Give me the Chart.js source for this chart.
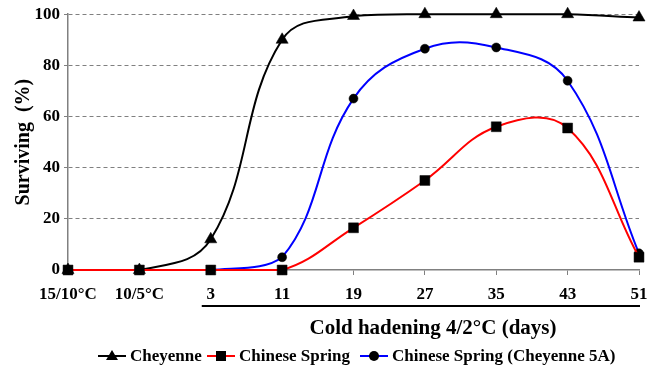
<!DOCTYPE html>
<html>
<head>
<meta charset="utf-8">
<script src="https://cdn.jsdelivr.net/npm/chart.js@4/dist/chart.umd.min.js"></script>
<style>
  html, body { margin: 0; padding: 0; background: #fff; }
  #wrap { width: 649px; height: 378px; }
</style>
</head>
<body>
<div id="wrap"><canvas id="lineChart"></canvas></div>
<script>
// data ------------------------------------------------------------
const categories = ['15/10°C', '10/5°C', '3', '11', '19', '27', '35', '43', '51'];
const cheyenne = [0, 0, 12, 90, 99.3, 100, 100, 100, 98.7];
const chineseSpring = [0, 0, 0, 0, 16.5, 35, 56, 55.5, 5];
const chineseSpring5A = [0, 0, 0, 5, 67, 86.5, 87, 74, 6.5];
const yTicks = [0, 20, 40, 60, 80, 100];

const serif = '"Liberation Serif", "DejaVu Serif", serif';

const seriesStyle = [
  { label: 'Cheyenne', color: '#000000', point: 'triangle', radius: 7, order: 2 },
  { label: 'Chinese Spring', color: '#ff0000', point: 'rect', radius: 7, order: 0 },
  { label: 'Chinese Spring (Cheyenne 5A)', color: '#0000ff', point: 'circle', radius: 4.5, order: 1 }
];

// draw marker shape (for the legend)
function marker(ctx, type, x, y) {
  ctx.fillStyle = '#000';
  ctx.beginPath();
  if (type == 'triangle') {
    ctx.moveTo(x, y - 6);
    ctx.lineTo(x + 6, y + 4);
    ctx.lineTo(x - 6, y + 4);
    ctx.closePath();
  } else if (type == 'rect') {
    ctx.rect(x - 5, y - 5, 10, 10);
  } else {
    ctx.arc(x, y, 5, 0, Math.PI * 2);
  }
  ctx.fill();
}

// extra bits: underline, x title, legend ---------------------------
const extras = {
  id: 'extras',
  afterDraw(chart) {
    const ctx = chart.ctx;
    const x = chart.scales.x;
    ctx.save();
    // thick line under the cold hardening days
    ctx.strokeStyle = '#000';
    ctx.lineWidth = 2;
    ctx.beginPath();
    ctx.moveTo(x.getPixelForValue(2) - 9, 306);
    ctx.lineTo(x.getPixelForValue(8) + 1, 306);
    ctx.stroke();

    ctx.fillStyle = '#000';
    ctx.font = 'bold 21px ' + serif;
    ctx.textAlign = 'center';
    ctx.textBaseline = 'middle';
    ctx.fillText('Cold hadening 4/2°C (days)', 433, 329);

    // legend
    ctx.font = 'bold 17px ' + serif;
    ctx.textAlign = 'left';
    const items = [[98, 130], [207, 239], [360, 392]];
    seriesStyle.forEach((s, i) => {
      const [lx, tx] = items[i];
      ctx.strokeStyle = s.color;
      ctx.lineWidth = 2;
      ctx.beginPath();
      ctx.moveTo(lx, 356);
      ctx.lineTo(lx + 28, 356);
      ctx.stroke();
      marker(ctx, s.point, lx + 14, 356);
      ctx.fillStyle = '#000';
      ctx.fillText(s.label, tx, 357);
    });
    ctx.restore();
  }
};

const data = {
  labels: categories,
  datasets: [cheyenne, chineseSpring, chineseSpring5A].map((vals, i) => ({
    label: seriesStyle[i].label,
    data: vals,
    order: seriesStyle[i].order,
    clip: false,
    borderColor: seriesStyle[i].color,
    borderWidth: 2,
    pointStyle: seriesStyle[i].point,
    pointRadius: seriesStyle[i].radius,
    pointBorderWidth: 0.5,
    pointBackgroundColor: '#000',
    pointBorderColor: '#000',
    tension: 0.4,
    fill: false
  }))
};

const config = {
  type: 'line',
  data,
  plugins: [extras],
  options: {
    responsive: true,
    maintainAspectRatio: false,
    animation: false,
    layout: { padding: { top: 5, right: 0, left: 10, bottom: 0 } },
    plugins: {
      legend: { display: false },
      tooltip: { enabled: false }
    },
    scales: {
      x: {
        offset: false,
        grid: { drawOnChartArea: false, drawTicks: true, tickLength: 5, color: '#808080' },
        border: { color: '#808080', width: 1.5 },
        ticks: {
          color: '#000',
          font: { family: serif, size: 17, weight: 'bold' },
          padding: 9,
          maxRotation: 0,
          autoSkip: false
        },
        afterFit(scale) {
          scale.height = 108;
          scale.paddingRight = 10;
        }
      },
      y: {
        min: 0,
        max: 100,
        afterBuildTicks(scale) { scale.ticks = yTicks.map(v => ({ value: v })); },
        grid: {
          color: '#808080',
          drawTicks: true,
          tickLength: 4,
          lineWidth: ctx => ctx.tick.value == 0 ? 0 : 1
        },
        border: { color: '#808080', width: 1.5, dash: [4, 3] },
        ticks: {
          color: '#000',
          font: { family: serif, size: 17, weight: 'bold' },
          padding: 4
        },
        title: {
          display: true,
          text: 'Surviving  (%)',
          color: '#000',
          font: { family: serif, size: 20, weight: 'bold' },
          padding: 2
        },
        afterFit(scale) { scale.width = 58; }
      }
    }
  }
};

const lineChart = new Chart(document.getElementById('lineChart'), config);
</script>
</body>
</html>
